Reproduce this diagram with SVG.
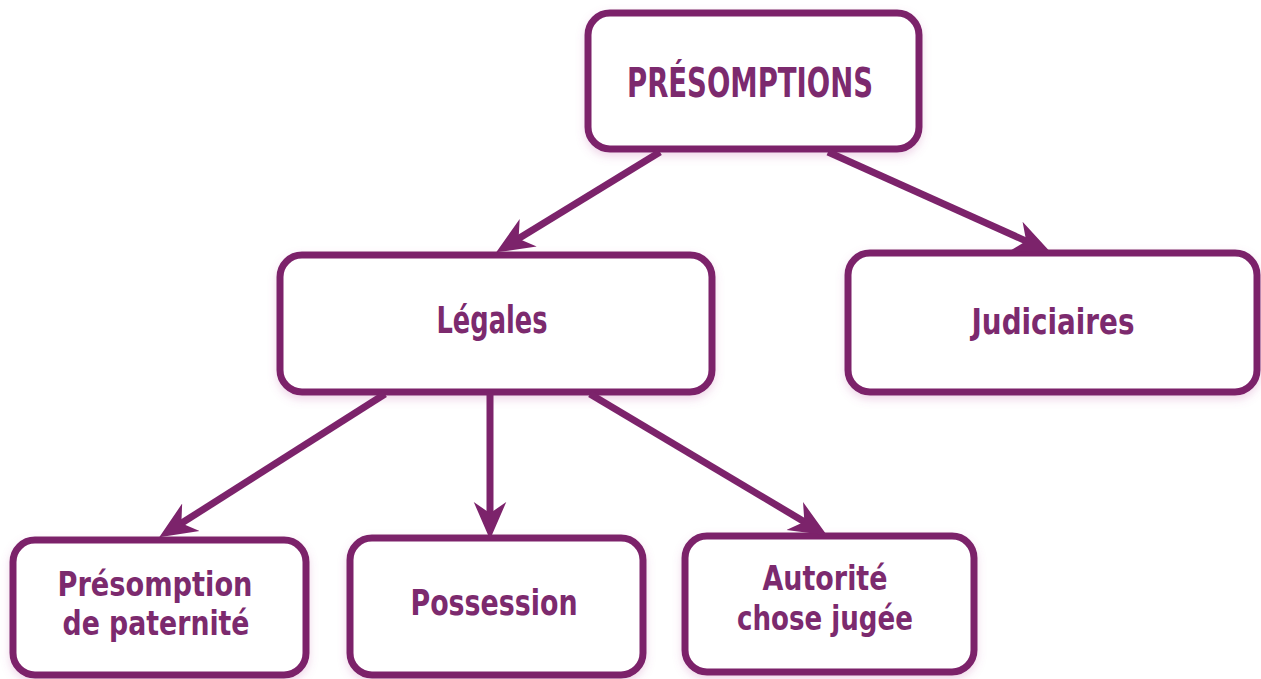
<svg xmlns="http://www.w3.org/2000/svg" width="1261" height="679" viewBox="0 0 1261 679">
<style>
.box{fill:#fff;stroke:#7c236b;stroke-width:7;filter:url(#sh)}
.t{font-family:"DejaVu Sans Condensed","DejaVu Sans",sans-serif;font-weight:bold;fill:#7c2a6e;text-anchor:middle}
.c{stroke:#7c236b;stroke-width:7;fill:none;marker-end:url(#ah)}
</style>
<defs>
<filter id="sh" x="-10%" y="-10%" width="120%" height="130%">
<feDropShadow dx="0" dy="4" stdDeviation="4" flood-color="#c05aa8" flood-opacity="0.25"/>
</filter>
<marker id="ah" markerUnits="userSpaceOnUse" markerWidth="40" markerHeight="40" viewBox="0 -15 32 30" refX="12" refY="0" orient="auto">
<path d="M0,-13 L30,0 L0,13 L9,0 Z" fill="#7c236b"/>
</marker>
</defs>
<rect width="1261" height="679" fill="#fff"/>
<g id="n-presomptions"><rect class="box" x="588" y="13" width="331" height="136" rx="22"/><text class="t" x="750" y="97" font-size="40" textLength="246" lengthAdjust="spacingAndGlyphs">PRÉSOMPTIONS</text></g>
<g id="n-legales"><rect class="box" x="280" y="255" width="432" height="137" rx="22"/><text class="t" x="492" y="333" font-size="37" textLength="111" lengthAdjust="spacingAndGlyphs">Légales</text></g>
<g id="n-judiciaires"><rect class="box" x="848" y="253" width="409" height="139" rx="22"/><text class="t" x="1053" y="334" font-size="36" textLength="163" lengthAdjust="spacingAndGlyphs">Judiciaires</text></g>
<g id="n-paternite"><rect class="box" x="13" y="540" width="293" height="135" rx="22"/><text class="t" x="155" y="596" font-size="33" textLength="195" lengthAdjust="spacingAndGlyphs">Présomption</text><text class="t" x="156" y="635" font-size="33" textLength="187" lengthAdjust="spacingAndGlyphs">de paternité</text></g>
<g id="n-possession"><rect class="box" x="350" y="538" width="293" height="137" rx="22"/><text class="t" x="494" y="615" font-size="36" textLength="167" lengthAdjust="spacingAndGlyphs">Possession</text></g>
<g id="n-autorite"><rect class="box" x="685" y="536" width="289" height="136" rx="22"/><text class="t" x="825" y="590" font-size="33" textLength="125" lengthAdjust="spacingAndGlyphs">Autorité</text><text class="t" x="825" y="630" font-size="33" textLength="176" lengthAdjust="spacingAndGlyphs">chose jugée</text></g>
<g id="connectors">
<line class="c" x1="660" y1="152" x2="515.4" y2="240.6"/>
<line class="c" x1="828" y1="152" x2="1029.6" y2="242.6"/>
<line class="c" x1="385" y1="394" x2="178.2" y2="525.3"/>
<line class="c" x1="490" y1="394" x2="490" y2="517"/>
<line class="c" x1="590" y1="394" x2="807.6" y2="523.7"/>
</g>
</svg>
